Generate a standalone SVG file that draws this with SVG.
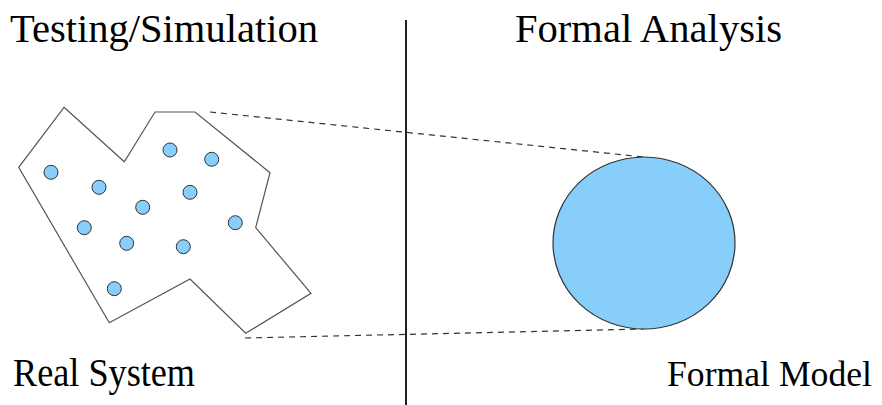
<svg xmlns="http://www.w3.org/2000/svg" width="882" height="405" viewBox="0 0 882 405">
<style>
.lbl{font-family:"Liberation Serif","Times New Roman",serif;font-size:40px;fill:#000}
.dot{fill:#87cefa;stroke:#333;stroke-width:1}
.dash{stroke:#333;stroke-width:1.2;stroke-dasharray:6,5;fill:none}
</style>
<rect width="882" height="405" fill="#fff"/>
<g id="titles">
<text class="lbl" x="10" y="42" textLength="308" lengthAdjust="spacingAndGlyphs">Testing/Simulation</text>
<text class="lbl" x="515" y="42" textLength="267" lengthAdjust="spacingAndGlyphs">Formal Analysis</text>
</g>
<line x1="406" y1="20" x2="406" y2="405" stroke="#222" stroke-width="2"/>
<g id="connectors">
<line class="dash" x1="210" y1="112" x2="644" y2="157"/>
<line class="dash" x1="245" y1="338" x2="644" y2="329"/>
</g>
<g id="real-system">
<polygon points="64,107.3 124.3,161.7 155,112 195,112 270,172.7 255.7,227.7 311,293.3 245.7,333.3 190,279 109.3,322.7 18.7,167.3" fill="#fff" stroke="#555" stroke-width="1.2"/>
<circle class="dot" cx="51" cy="172.3" r="7"/>
<circle class="dot" cx="99" cy="187.3" r="7"/>
<circle class="dot" cx="170" cy="150" r="7"/>
<circle class="dot" cx="211.7" cy="159.3" r="7"/>
<circle class="dot" cx="190" cy="192.3" r="7"/>
<circle class="dot" cx="142.7" cy="207.3" r="7"/>
<circle class="dot" cx="84.3" cy="227.7" r="7"/>
<circle class="dot" cx="126.7" cy="243.3" r="7"/>
<circle class="dot" cx="183.3" cy="246.7" r="7"/>
<circle class="dot" cx="235.3" cy="222.7" r="7"/>
<circle class="dot" cx="114.3" cy="288.7" r="7"/>
<text class="lbl" x="13" y="386" textLength="182" lengthAdjust="spacingAndGlyphs">Real System</text>
</g>
<g id="formal-model">
<ellipse cx="644" cy="243" rx="91" ry="86" fill="#87cefa" stroke="#333" stroke-width="1.2"/>
<text class="lbl" x="667" y="386" style="font-size:36px" textLength="205" lengthAdjust="spacingAndGlyphs">Formal Model</text>
</g>
</svg>
